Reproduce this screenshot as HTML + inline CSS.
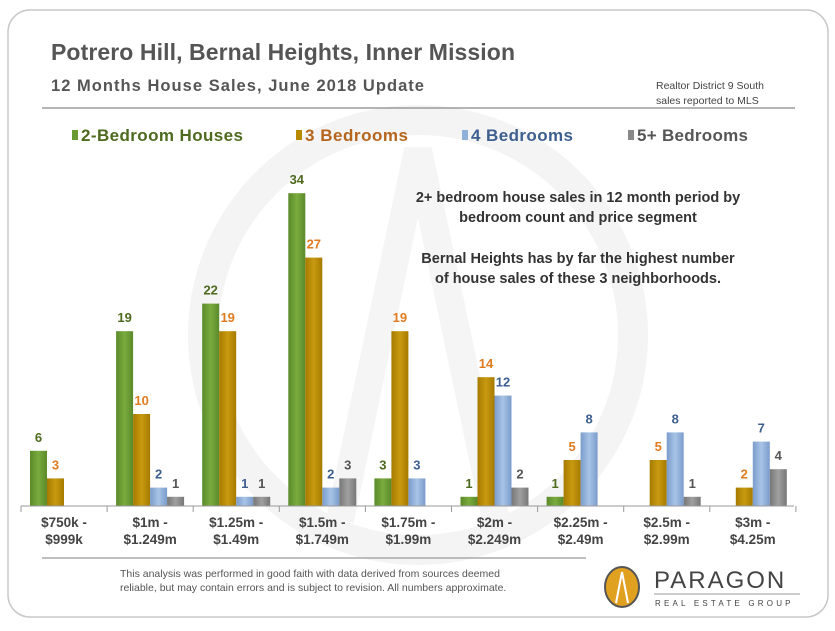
<!DOCTYPE html>
<html><head><style>
body{margin:0;background:#fff;}
svg text{font-family:"Liberation Sans",Arial,sans-serif;}
</style></head><body>
<svg width="835" height="626" viewBox="0 0 835 626" xmlns="http://www.w3.org/2000/svg">
<defs>
<linearGradient id="g" x1="0" x2="1"><stop offset="0" stop-color="#5a8a2a"/><stop offset="0.5" stop-color="#7aab3e"/><stop offset="1" stop-color="#5a8a2a"/></linearGradient>
<linearGradient id="o" x1="0" x2="1"><stop offset="0" stop-color="#a67a00"/><stop offset="0.5" stop-color="#c89a10"/><stop offset="1" stop-color="#a67a00"/></linearGradient>
<linearGradient id="b" x1="0" x2="1"><stop offset="0" stop-color="#7a9ccc"/><stop offset="0.5" stop-color="#a8c4e6"/><stop offset="1" stop-color="#7a9ccc"/></linearGradient>
<linearGradient id="y" x1="0" x2="1"><stop offset="0" stop-color="#777"/><stop offset="0.5" stop-color="#a0a0a0"/><stop offset="1" stop-color="#777"/></linearGradient>
</defs>
<rect x="8" y="10" width="820" height="607" rx="22" fill="#fff" stroke="#c8c8c8" stroke-width="1.5"/>
<circle cx="418" cy="335" r="215" fill="none" stroke="#f4f4f4" stroke-width="30"/>
<path d="M340 520 L418 150 L496 520" fill="none" stroke="#f5f5f5" stroke-width="28"/>
<text x="51" y="60" font-size="23" font-weight="bold" fill="#555" textLength="464">Potrero Hill, Bernal Heights, Inner Mission</text>
<text x="51" y="91" font-size="16.5" font-weight="bold" fill="#555" textLength="373">12 Months House Sales, June 2018 Update</text>
<text x="656" y="89" font-size="10.5" fill="#444">Realtor District  9 South</text>
<text x="656" y="104" font-size="10.5" fill="#444">sales reported to MLS</text>
<line x1="42" y1="108" x2="795" y2="108" stroke="#888" stroke-width="1.2"/>
<rect x="72" y="130" width="6" height="10" fill="#6a9a34"/><text x="81" y="141" font-size="17" font-weight="bold" fill="#4e6a1e" textLength="162">2-Bedroom Houses</text>
<rect x="296" y="130" width="6" height="10" fill="#b88a00"/><text x="305" y="141" font-size="17" font-weight="bold" fill="#b5651d" textLength="103">3 Bedrooms</text>
<rect x="462" y="130" width="6" height="10" fill="#8fb0d8"/><text x="471" y="141" font-size="17" font-weight="bold" fill="#3d5f8f" textLength="102">4 Bedrooms</text>
<rect x="628" y="130" width="6" height="10" fill="#888"/><text x="637" y="141" font-size="17" font-weight="bold" fill="#555" textLength="111">5+ Bedrooms</text>
<g font-size="14.5" font-weight="bold" fill="#333" text-anchor="middle">
<text x="578" y="202">2+ bedroom house sales in 12 month period by</text>
<text x="578" y="222">bedroom count and price segment</text>
<text x="578" y="263">Bernal Heights has by far the highest number</text>
<text x="578" y="283">of house sales of these 3 neighborhoods.</text>
</g>
<g id="bars" font-size="13" font-weight="bold" text-anchor="middle"></g>
<line x1="21" y1="506" x2="794" y2="506" stroke="#999"/>
<g id="ticks" stroke="#999"></g>
<g id="cats" font-size="13.5" font-weight="bold" fill="#444" text-anchor="middle"></g>
<line x1="42" y1="558" x2="586" y2="558" stroke="#999" stroke-width="1.2"/>
<text x="120" y="577" font-size="10.5" fill="#555">This analysis was performed  in good faith with data derived  from  sources deemed</text>
<text x="120" y="591" font-size="10.5" fill="#555">reliable,  but may contain errors  and is subject to revision.  All numbers approximate.</text>
<ellipse cx="622" cy="587" rx="17" ry="20" fill="#e0a020" stroke="#555" stroke-width="2"/>
<path d="M622 572 L616 603 M622 572 L628 603" stroke="#fff" stroke-width="2"/>
<text x="654" y="588" font-size="24" fill="#444" letter-spacing="2">PARAGON</text>
<line x1="654" y1="594" x2="800" y2="594" stroke="#999"/>
<text x="655" y="606" font-size="8" fill="#444" letter-spacing="3.2">REAL ESTATE GROUP</text>
</svg>
<script>
var d=[[6,3,0,0],[19,10,2,1],[22,19,1,1],[34,27,2,3],[3,19,3,0],[1,14,12,2],[1,5,8,0],[0,5,8,1],[0,2,7,4]];
var cats=[["$750k -","$999k"],["$1m -","$1.249m"],["$1.25m -","$1.49m"],["$1.5m -","$1.749m"],["$1.75m -","$1.99m"],["$2m -","$2.249m"],["$2.25m -","$2.49m"],["$2.5m -","$2.99m"],["$3m -","$4.25m"]];
var fills=["url(#g)","url(#o)","url(#b)","url(#y)"],lc=["#4e6a1e","#e07b20","#3d5f8f","#555"];
var ns="http://www.w3.org/2000/svg",B=document.getElementById("bars"),T=document.getElementById("ticks"),C=document.getElementById("cats");
function el(p,t,a,txt){var e=document.createElementNS(ns,t);for(var k in a)e.setAttribute(k,a[k]);if(txt!=null)e.textContent=txt;p.appendChild(e);}
for(var i=0;i<=9;i++){var x=21+i*86.1;el(T,"line",{x1:x,y1:506,x2:x,y2:512});}
d.forEach(function(r,i){var x0=21+i*86.1;
 el(C,"text",{x:x0+43,y:527},cats[i][0]);el(C,"text",{x:x0+43,y:544},cats[i][1]);
 r.forEach(function(v,j){if(!v)return;var h=v*9.2,x=x0+9+j*17;
  el(B,"rect",{x:x,y:506-h,width:17,height:h,fill:fills[j]});
  el(B,"text",{x:x+8.5,y:506-h-9,fill:lc[j]},v);});
});
</script>
</body></html>
